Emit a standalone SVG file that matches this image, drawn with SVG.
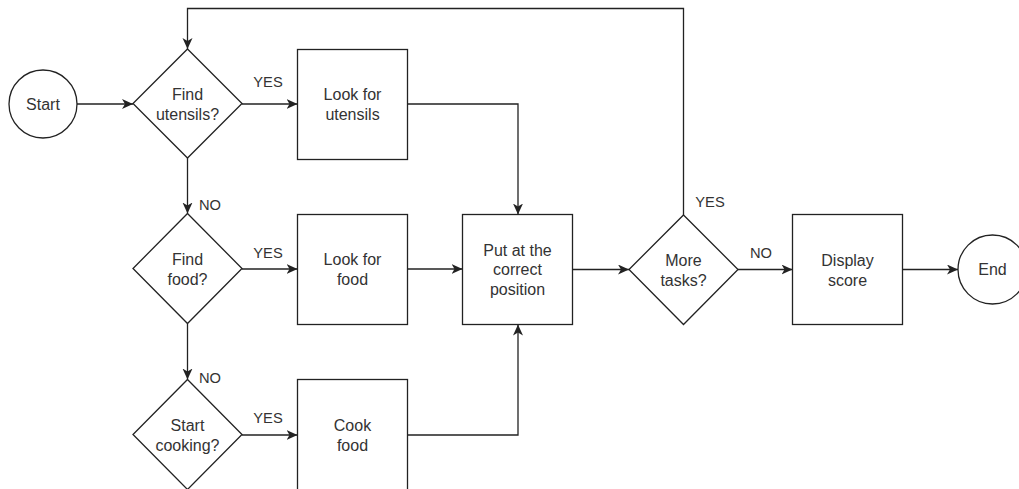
<svg xmlns="http://www.w3.org/2000/svg" width="1019" height="489" viewBox="0 0 1019 489">
  <style>
    .shape { fill: #ffffff; stroke: #222222; stroke-width: 1.3; }
    .edge { fill: none; stroke: #222222; stroke-width: 1.3; }
    .txt { font-family: "Liberation Sans", Arial, sans-serif; font-size: 16px; fill: #333333; text-anchor: middle; }
    .lbl { font-family: "Liberation Sans", Arial, sans-serif; font-size: 14.7px; fill: #333333; text-anchor: middle; }
  </style>
  <defs>
    <marker id="arrow" markerUnits="userSpaceOnUse" markerWidth="12" markerHeight="11" refX="11" refY="5" orient="auto">
      <path d="M0,0 L11,5 L0,10 L3,5 Z" fill="#222222"/>
    </marker>
  </defs>
  <rect width="1019" height="489" fill="#ffffff"/>

  <g id="connectors">
    <path class="edge" d="M77,104 H133" marker-end="url(#arrow)"/>
    <path class="edge" d="M242,104 H297.5" marker-end="url(#arrow)"/>
    <path class="edge" d="M407.5,104 H518 V214.5" marker-end="url(#arrow)"/>
    <path class="edge" d="M187.5,158 V213.5" marker-end="url(#arrow)"/>
    <path class="edge" d="M242,269 H297.5" marker-end="url(#arrow)"/>
    <path class="edge" d="M407.5,269 H462.5" marker-end="url(#arrow)"/>
    <path class="edge" d="M187.5,323.5 V379.5" marker-end="url(#arrow)"/>
    <path class="edge" d="M242,435 H297.5" marker-end="url(#arrow)"/>
    <path class="edge" d="M407.5,435 H518 V324.5" marker-end="url(#arrow)"/>
    <path class="edge" d="M572.5,269.5 H629" marker-end="url(#arrow)"/>
    <path class="edge" d="M738,269.5 H792.5" marker-end="url(#arrow)"/>
    <path class="edge" d="M683.5,215 V8.5 H187.5 V49" marker-end="url(#arrow)"/>
    <path class="edge" d="M902.5,269.5 H958" marker-end="url(#arrow)"/>
    <text class="lbl" x="268" y="87">YES</text>
    <text class="lbl" x="210" y="210">NO</text>
    <text class="lbl" x="268" y="258">YES</text>
    <text class="lbl" x="210" y="383">NO</text>
    <text class="lbl" x="268" y="423">YES</text>
    <text class="lbl" x="710" y="207">YES</text>
    <text class="lbl" x="761" y="258">NO</text>
  </g>

  <g id="start">
    <circle class="shape" cx="43" cy="104" r="34"/>
    <text class="txt" x="43" y="109.7">Start</text>
  </g>

  <g id="find-utensils">
    <polygon class="shape" points="187.5,49 242,103.5 187.5,158 133,103.5"/>
    <text class="txt" x="187.5" y="99.5">Find</text>
    <text class="txt" x="187.5" y="119.5">utensils?</text>
  </g>

  <g id="look-utensils">
    <rect class="shape" x="297.5" y="49.5" width="110" height="110"/>
    <text class="txt" x="352.5" y="99.5">Look for</text>
    <text class="txt" x="352.5" y="119.5">utensils</text>
  </g>

  <g id="find-food">
    <polygon class="shape" points="187.5,213.5 242,268.5 187.5,323.5 133,268.5"/>
    <text class="txt" x="187.5" y="264.5">Find</text>
    <text class="txt" x="187.5" y="284.5">food?</text>
  </g>

  <g id="look-food">
    <rect class="shape" x="297.5" y="214.5" width="110" height="110"/>
    <text class="txt" x="352.5" y="264.5">Look for</text>
    <text class="txt" x="352.5" y="284.5">food</text>
  </g>

  <g id="start-cooking">
    <polygon class="shape" points="187.5,379.5 242,434.5 187.5,489.5 133,434.5"/>
    <text class="txt" x="187.5" y="430.5">Start</text>
    <text class="txt" x="187.5" y="450.5">cooking?</text>
  </g>

  <g id="cook-food">
    <rect class="shape" x="297.5" y="379.5" width="110" height="120"/>
    <text class="txt" x="352.5" y="430.5">Cook</text>
    <text class="txt" x="352.5" y="450.5">food</text>
  </g>

  <g id="put-position">
    <rect class="shape" x="462.5" y="214.5" width="110" height="110"/>
    <text class="txt" x="517.5" y="255.5">Put at the</text>
    <text class="txt" x="517.5" y="275">correct</text>
    <text class="txt" x="517.5" y="294.5">position</text>
  </g>

  <g id="more-tasks">
    <polygon class="shape" points="683.5,215 738,269.5 683.5,324.5 629,269.5"/>
    <text class="txt" x="683.5" y="265.5">More</text>
    <text class="txt" x="683.5" y="285.5">tasks?</text>
  </g>

  <g id="display-score">
    <rect class="shape" x="792.5" y="214.5" width="110" height="110"/>
    <text class="txt" x="847.5" y="265.5">Display</text>
    <text class="txt" x="847.5" y="285.5">score</text>
  </g>

  <g id="end">
    <circle class="shape" cx="992.5" cy="269.5" r="34.5"/>
    <text class="txt" x="992.5" y="275.2">End</text>
  </g>
</svg>
